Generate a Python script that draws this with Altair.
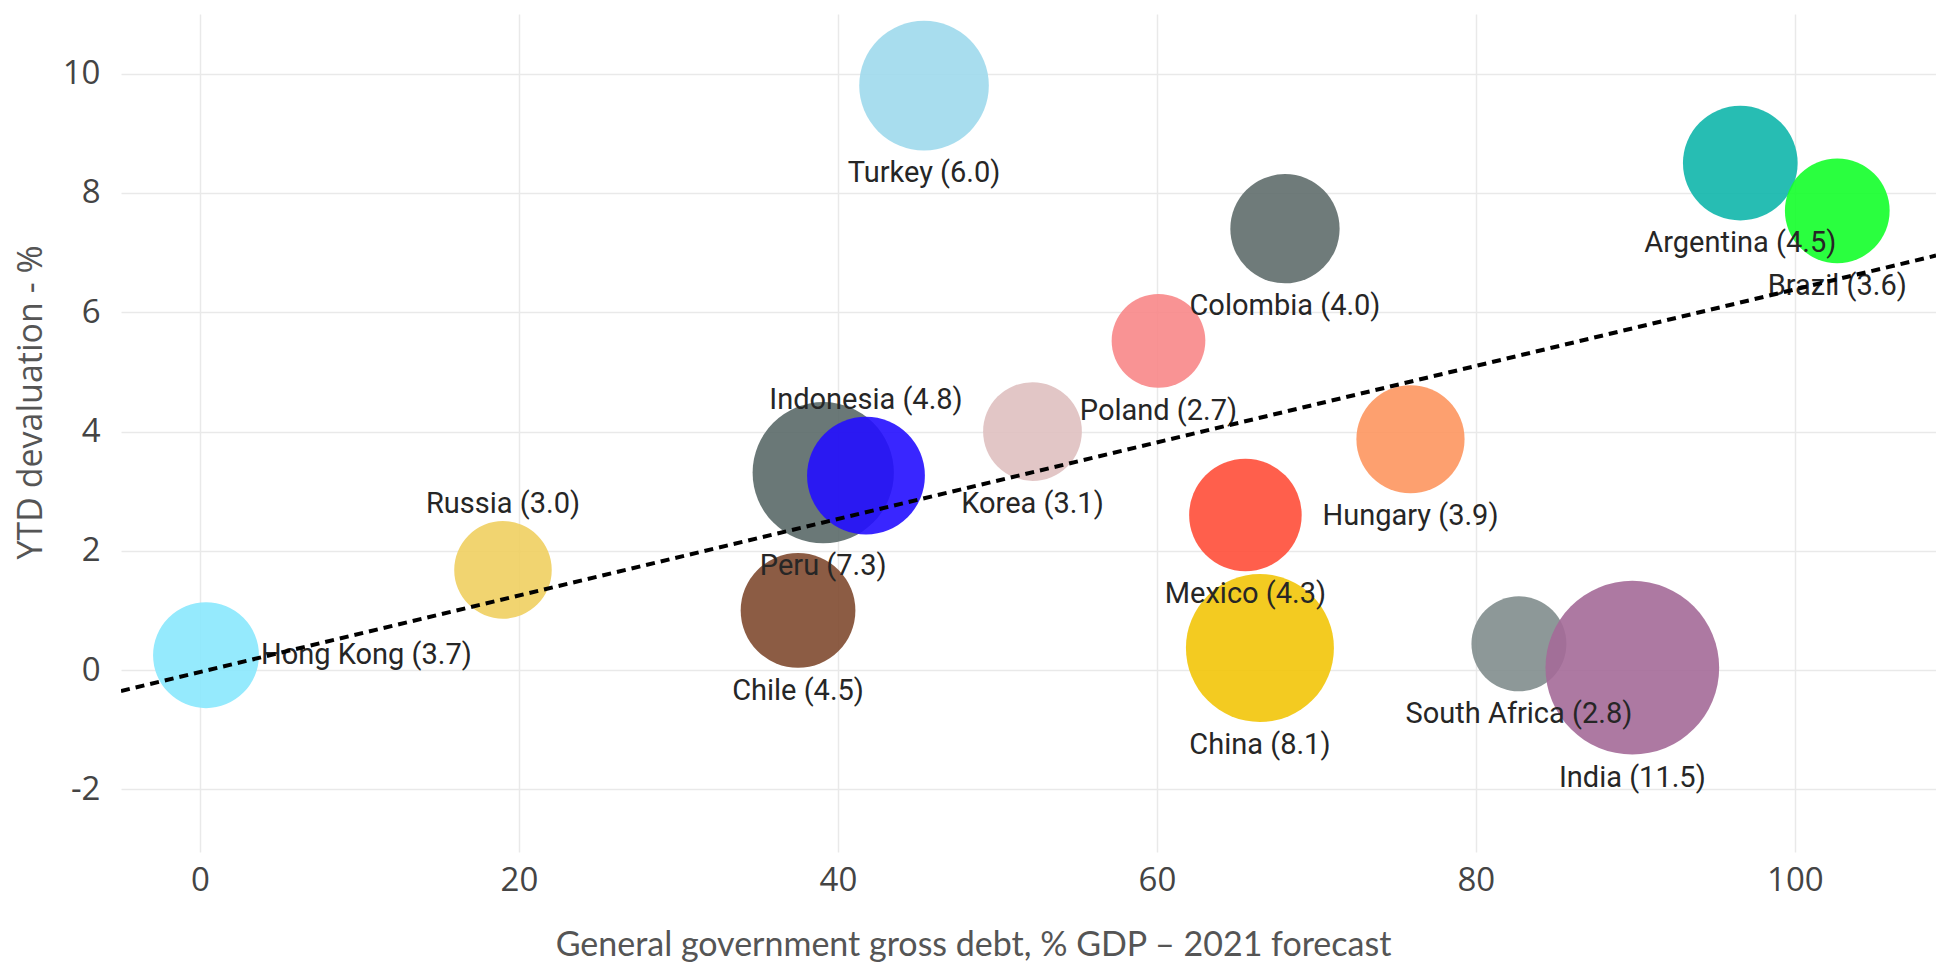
import altair as alt
import pandas as pd

# Countries, government debt (% GDP, 2021 forecast), YTD devaluation (%),
# and the bubble weight shown in brackets next to each name.
countries = [
    "Hong Kong", "Russia", "Chile", "Peru", "Indonesia", "Turkey", "Korea",
    "Poland", "Mexico", "China", "Colombia", "Hungary", "South Africa",
    "India", "Argentina", "Brazil",
]
debt = [0.38, 19.0, 37.5, 39.08, 41.76, 45.4, 52.2, 60.1, 65.55, 66.46, 68.03,
        75.9, 82.7, 89.81, 96.58, 102.66]
devaluation = [0.25, 1.68, 1.00, 3.31, 3.26, 9.80, 4.00, 5.52, 2.60, 0.37,
               7.40, 3.87, 0.44, 0.04, 8.50, 7.70]
weight = [3.7, 3.0, 4.5, 7.3, 4.8, 6.0, 3.1, 2.7, 4.3, 8.1, 4.0, 3.9, 2.8,
          11.5, 4.5, 3.6]
label_side = ["right", "above", "below", "below", "above", "below", "below",
              "below", "below", "below", "below", "below", "below", "below",
              "below", "below"]
bubble_colors = [
    "#8AE8FD", "#F0CF60", "#7F4A30", "#5A6968", "#240EFF", "#9FD9EC",
    "#DFC0C0", "#F88788", "#FF4E38", "#F2C509", "#5F6D6C", "#FD965F",
    "#818D8D", "#A46A98", "#0FB6AB", "#13FF2A",
]

# Trend line end points
trend_x = [-4.95, 108.85]
trend_y = [-0.35, 6.95]

x_ticks = [0, 20, 40, 60, 80, 100]
y_ticks = [-2, 0, 2, 4, 6, 8, 10]

W, H = 1815, 838
X_DOM = [-4.95, 108.85]
Y_DOM = [-3.05, 11.0]
PX_X = W / (X_DOM[1] - X_DOM[0])
PX_Y = H / (Y_DOM[1] - Y_DOM[0])

# Bubble symbol size (square of the diameter) grows linearly with the weight
SIZE_BASE = 2220.0
SIZE_PER_UNIT = 2430.0
SIZE_MAX_W = 12

df = pd.DataFrame({
    "country": countries,
    "debt": debt,
    "devaluation": devaluation,
    "weight": weight,
    "side": label_side,
    "color": bubble_colors,
})
df["label"] = [f"{c} ({w:.1f})" for c, w in zip(countries, weight)]
df["order"] = range(len(df))

trend = pd.DataFrame({"x": trend_x, "y": trend_y})

x_scale = alt.Scale(domain=X_DOM, nice=False, zero=False)
y_scale = alt.Scale(domain=Y_DOM, nice=False, zero=False)

x_axis = alt.Axis(
    values=x_ticks, title="General government gross debt, % GDP \u2013 2021 forecast",
    grid=True, gridColor="#E9E9E9", gridWidth=1.5, domain=False, ticks=False,
    labelFont="Open Sans", labelFontSize=33, labelColor="#444444", labelPadding=12,
    labelExpr="'' + datum.value",
    titleFont="Lato", titleFontSize=34, titleFontWeight="normal", titleColor="#555555",
    titleX=852, titleY=93, titleBaseline="middle", titleAnchor="middle",
)
y_axis = alt.Axis(
    values=y_ticks, title="YTD devaluation - %",
    grid=True, gridColor="#E9E9E9", gridWidth=1.5, domain=False, ticks=False,
    labelFont="Open Sans", labelFontSize=33, labelColor="#444444", labelPadding=21,
    labelExpr="'' + datum.value",
    titleFont="Open Sans", titleFontSize=34, titleFontWeight="normal", titleColor="#555555",
    titleX=-90, titleY=388, titleAngle=-90, titleBaseline="middle", titleAlign="center",
)

base = alt.Chart(df)

bubbles = base.mark_circle(stroke=None, opacity=0.9).encode(
    x=alt.X("debt:Q", scale=x_scale, axis=x_axis),
    y=alt.Y("devaluation:Q", scale=y_scale, axis=y_axis),
    size=alt.Size(
        "weight:Q",
        scale=alt.Scale(domain=[0, SIZE_MAX_W],
                        range=[SIZE_BASE, SIZE_BASE + SIZE_PER_UNIT * SIZE_MAX_W],
                        zero=False),
        legend=None,
    ),
    color=alt.Color("color:N", scale=None),
    order=alt.Order("order:Q"),
)

# label anchor: below, above or right of the bubble edge
labelled = base.transform_calculate(
    r=f"sqrt({SIZE_BASE} + {SIZE_PER_UNIT} * datum.weight) / 2"
).transform_calculate(
    lx=f"datum.side == 'right' ? datum.debt + (datum.r + 2) / {PX_X} : datum.debt",
    ly=(f"datum.side == 'below' ? datum.devaluation - (datum.r + 23) / {PX_Y} : "
        f"(datum.side == 'above' ? datum.devaluation + (datum.r + 17) / {PX_Y} : datum.devaluation)"),
)

label_style = dict(font="Roboto", fontSize=29, color="#262626", baseline="middle")

labels_center = labelled.transform_filter("datum.side != 'right'").mark_text(
    align="center", **label_style
).encode(
    x=alt.X("lx:Q", scale=x_scale),
    y=alt.Y("ly:Q", scale=y_scale),
    text="label:N",
)
labels_right = labelled.transform_filter("datum.side == 'right'").mark_text(
    align="left", **label_style
).encode(
    x=alt.X("lx:Q", scale=x_scale),
    y=alt.Y("ly:Q", scale=y_scale),
    text="label:N",
)

trend_line = alt.Chart(trend).mark_line(
    color="black", strokeWidth=4, strokeDash=[9, 6], clip=True
).encode(
    x=alt.X("x:Q", scale=x_scale),
    y=alt.Y("y:Q", scale=y_scale),
)

chart = alt.layer(bubbles, labels_center, labels_right, trend_line).properties(
    width=W,
    height=H,
    padding={"left": 121, "top": 14, "right": 0, "bottom": 110},
    autosize=alt.AutoSizeParams(type="none"),
    background="white",
).configure_view(stroke=None)

chart.save("out.html", embed_options={"renderer": "svg", "actions": False})
